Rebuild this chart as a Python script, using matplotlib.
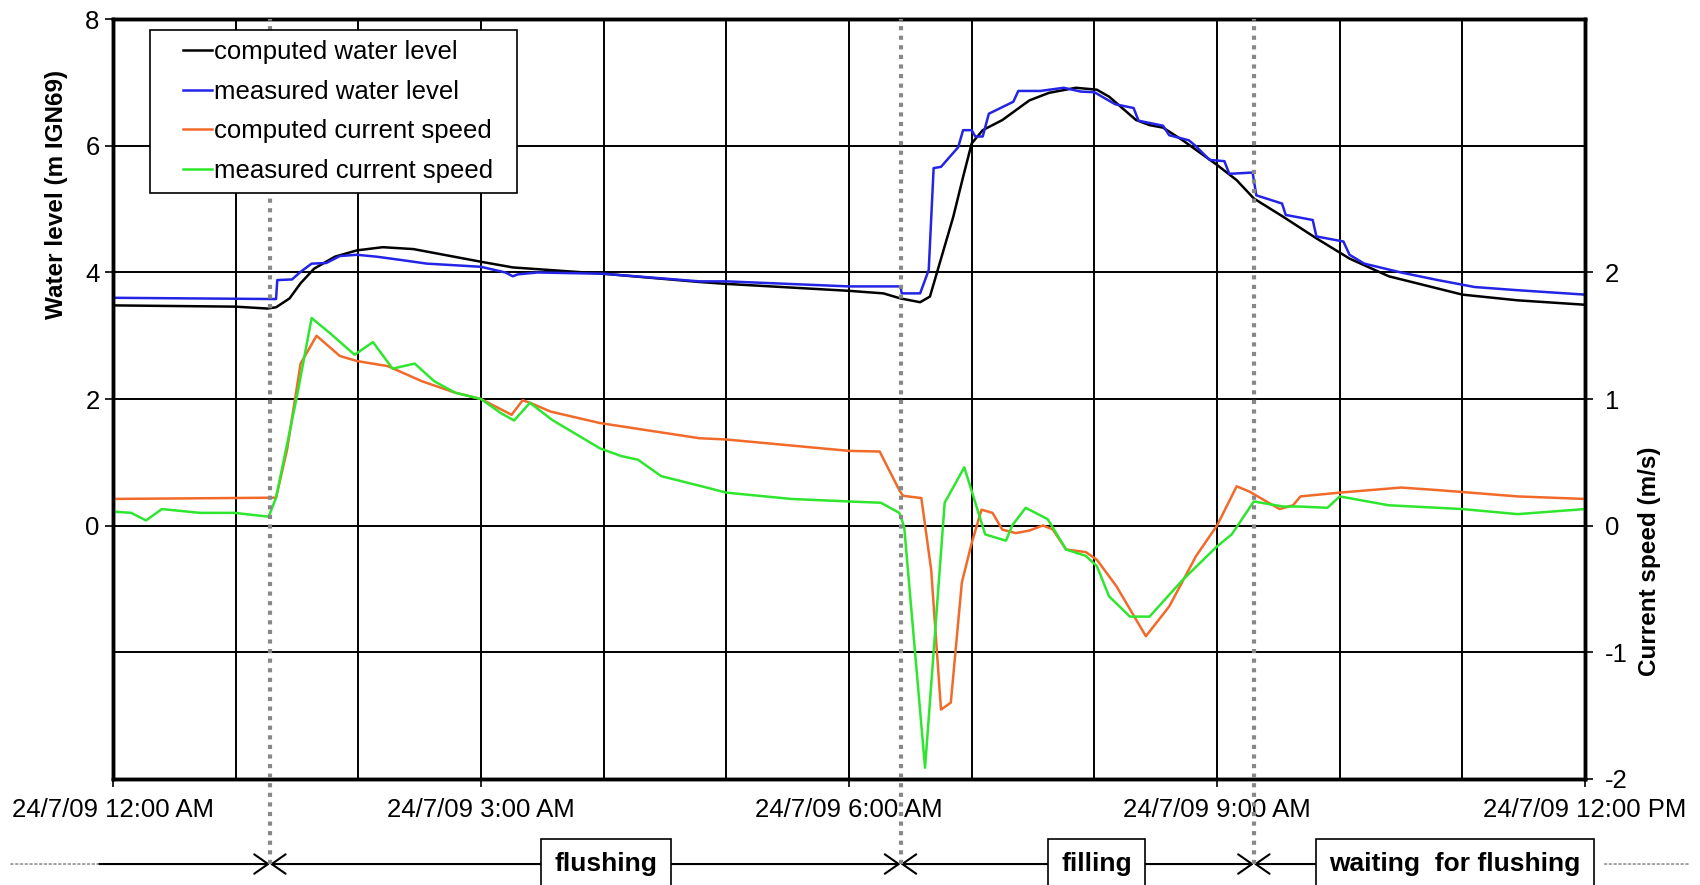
# water level / current speed during a flushing cycle

import matplotlib.pyplot as plt
from matplotlib.transforms import blended_transform_factory
from matplotlib.legend_handler import HandlerLine2D

plt.rcParams['font.family'] = ['Liberation Sans', 'DejaVu Sans']
plt.rcParams['axes.unicode_minus'] = False
fontsize = 18.5

## data (time in hours after 24/7/09 12:00 AM)
t_level_comp = [0, 0.5, 1.0, 1.26, 1.33, 1.44, 1.53, 1.64, 1.81, 1.99, 2.2, 2.45, 3.0, 3.26, 3.7,
                4.0, 4.78, 5.0, 6.0, 6.28, 6.42, 6.58, 6.66, 6.74, 6.85, 6.93, 7.0, 7.09, 7.25,
                7.47, 7.63, 7.85, 8.02, 8.12, 8.34, 8.45, 8.56, 8.72, 9.0, 9.16, 9.3, 9.54, 9.81,
                10.08, 10.4, 11.0, 11.45, 12.0]
level_comp = [3.48, 3.47, 3.46, 3.43, 3.45, 3.59, 3.83, 4.06, 4.25, 4.35, 4.40, 4.37, 4.17, 4.08, 4.02,
              3.98, 3.85, 3.82, 3.71, 3.67, 3.59, 3.53, 3.62, 4.15, 4.88, 5.51, 6.04, 6.25, 6.41,
              6.72, 6.84, 6.92, 6.89, 6.78, 6.41, 6.33, 6.29, 6.09, 5.70, 5.46, 5.17, 4.88, 4.54,
              4.22, 3.94, 3.65, 3.56, 3.49]

t_level_meas = [0, 1.33, 1.34, 1.46, 1.53, 1.62, 1.74, 1.85, 1.99, 2.15, 2.34, 2.56, 3.0, 3.2, 3.26,
                3.3, 3.46, 4.0, 4.78, 5.0, 6.0, 6.42, 6.43, 6.58, 6.65, 6.69, 6.75, 6.89, 6.93,
                7.0, 7.03, 7.09, 7.14, 7.34, 7.38, 7.56, 7.75, 7.89, 8.0, 8.17, 8.32, 8.36, 8.56,
                8.61, 8.77, 8.82, 8.94, 9.06, 9.1, 9.29, 9.32, 9.53, 9.56, 9.78, 9.81, 10.03,
                10.08, 10.2, 10.5, 10.8, 11.1, 11.45, 12.0]
level_meas = [3.60, 3.58, 3.88, 3.89, 4.01, 4.14, 4.15, 4.26, 4.28, 4.25, 4.20, 4.14, 4.09, 4.0, 3.94,
              3.97, 4.0, 3.98, 3.86, 3.86, 3.78, 3.78, 3.67, 3.67, 4.04, 5.65, 5.67, 5.98, 6.25,
              6.25, 6.15, 6.15, 6.51, 6.70, 6.87, 6.87, 6.92, 6.86, 6.85, 6.66, 6.60, 6.40, 6.32,
              6.17, 6.09, 6.01, 5.78, 5.76, 5.56, 5.58, 5.22, 5.09, 4.91, 4.83, 4.57, 4.49,
              4.28, 4.14, 4.0, 3.88, 3.77, 3.72, 3.65]

t_speed_comp = [0, 1.33, 1.42, 1.53, 1.66, 1.85, 1.99, 2.24, 2.52, 2.79, 3.0, 3.25, 3.34, 3.4, 3.57,
                3.97, 4.78, 5.0, 6.0, 6.25, 6.41, 6.44, 6.59, 6.67, 6.75, 6.83, 6.92, 7.0, 7.08,
                7.17, 7.25, 7.36, 7.47, 7.58, 7.66, 7.77, 7.93, 8.02, 8.18, 8.42, 8.61, 8.83, 9.0,
                9.16, 9.26, 9.51, 9.62, 9.68, 10.0, 10.5, 10.8, 11.45, 12.0]
speed_comp = [0.21, 0.22, 0.60, 1.28, 1.50, 1.34, 1.30, 1.26, 1.14, 1.05, 1.0, 0.875, 0.99, 0.97, 0.90,
              0.81, 0.69, 0.68, 0.59, 0.585, 0.28, 0.235, 0.217, -0.35, -1.455, -1.40, -0.45, -0.14, 0.125,
              0.10, -0.033, -0.06, -0.04, 0.0, -0.03, -0.19, -0.21, -0.27, -0.48, -0.875, -0.64, -0.24, 0.0,
              0.31, 0.27, 0.13, 0.16, 0.23, 0.26, 0.30, 0.28, 0.23, 0.21]

t_speed_meas = [0, 0.15, 0.27, 0.4, 0.71, 0.99, 1.27, 1.33, 1.50, 1.62, 1.77, 1.97, 2.12, 2.28, 2.46,
                2.62, 2.79, 3.0, 3.16, 3.27, 3.4, 3.58, 3.97, 4.14, 4.28, 4.47, 4.8, 5.0, 5.53, 6.0,
                6.26, 6.41, 6.45, 6.62, 6.78, 6.94, 7.11, 7.28, 7.33, 7.44, 7.62, 7.77, 7.93, 8.02,
                8.12, 8.29, 8.45, 8.72, 9.0, 9.12, 9.30, 9.54, 9.67, 9.9, 10.0, 10.4, 11.0, 11.45, 12.0]
speed_meas = [0.11, 0.10, 0.04, 0.13, 0.10, 0.10, 0.07, 0.22, 1.02, 1.64, 1.52, 1.35, 1.45, 1.24, 1.28,
              1.14, 1.05, 1.0, 0.89, 0.83, 0.97, 0.835, 0.61, 0.55, 0.52, 0.39, 0.31, 0.26, 0.21, 0.19,
              0.18, 0.10, -0.01, -1.915, 0.18, 0.46, -0.07, -0.12, 0.0, 0.14, 0.05, -0.19, -0.24, -0.32,
              -0.56, -0.72, -0.72, -0.43, -0.165, -0.07, 0.19, 0.15, 0.15, 0.14, 0.23, 0.16, 0.13, 0.09, 0.13]

xTickPos = [0, 3, 6, 9, 12]
xTickMarks = ['24/7/09 12:00 AM', '24/7/09 3:00 AM', '24/7/09 6:00 AM',
              '24/7/09 9:00 AM', '24/7/09 12:00 PM']
phase_bounds = [1.28, 6.42, 9.30]
phase_names = ['flushing', 'filling', 'waiting  for flushing']
phase_label_x = [4.02, 8.02, 10.94]

fig = plt.figure(figsize=(17, 8.85), dpi=100)
ax = fig.add_axes([0.0664, 0.1203, 0.866, 0.8577])
ax2 = ax.twinx()

## lines
l1, = ax.plot(t_level_comp, level_comp, color='black', lw=1.8, label='computed water level')
l2, = ax.plot(t_level_meas, level_meas, color='#2424e6', lw=1.8, label='measured water level')
l3, = ax2.plot(t_speed_comp, speed_comp, color='#f26a2a', lw=1.8, label='computed current speed')
l4, = ax2.plot(t_speed_meas, speed_meas, color='#2ee62e', lw=1.8, label='measured current speed')

# axes and labels
ax.set_xlim(0, 12)
ax.set_ylim(-4, 8)
ax2.set_ylim(-2, 4)
ax.set_xticks(xTickPos)
ax.set_xticklabels(xTickMarks)
ax.set_xticks(range(13), minor=True)
ax.set_yticks([0, 2, 4, 6, 8])
ax.set_yticks([-2], minor=True)
ax2.set_yticks([-2, -1, 0, 1, 2])
ax.grid(True, which='both', color='black', lw=1.4)
ax.set_axisbelow(True)
ax.tick_params(which='major', labelsize=fontsize, length=6, width=1.2, direction='out')
ax.tick_params(axis='x', which='major', pad=8)
ax.tick_params(which='minor', length=0)
ax2.tick_params(labelsize=fontsize, length=6, width=1.2, pad=8)
ax.set_ylabel('Water level (m IGN69)', fontsize=17.5, fontweight='bold')
ax2.set_ylabel('Current speed (m/s)', fontsize=17.5, fontweight='bold')
ax.yaxis.set_label_coords(-0.0303, 0.769)
ax2.yaxis.set_label_coords(1.036, 0.286)
for a in (ax, ax2):
    for s in a.spines.values():
        s.set_linewidth(2.5)

## phase boundaries (dotted, running down to the arrow row)
y_row = 0.0237
y_row_ax = (y_row - 0.1203) / 0.8577
for b in phase_bounds:
    ax2.plot([b, b], [y_row_ax, 1], transform=ax2.get_xaxis_transform(), color='#888888',
             lw=3, ls=(0, (1, 1.3)), clip_on=False, zorder=5)

## arrows and phase boxes below the axis
xy = ('data', 'figure fraction')
arrow = dict(lw=1.5, color='black', shrinkA=0, shrinkB=0, mutation_scale=20)
edges = [(-0.12, phase_bounds[0], '->'), (phase_bounds[0], phase_bounds[1], '<->'),
         (phase_bounds[1], phase_bounds[2], '<->'), (phase_bounds[2], 11.0, '<-')]
for x0, x1, style in edges:
    ax.annotate('', xy=(x1, y_row), xytext=(x0, y_row), xycoords=xy, textcoords=xy,
                arrowprops=dict(arrowstyle=style + ',head_length=0.5,head_width=0.35', **arrow),
                annotation_clip=False)
for x0, x1 in [(-0.83, -0.12), (12.16, 12.86)]:
    ax.annotate('', xy=(x1, y_row), xytext=(x0, y_row), xycoords=xy, textcoords=xy,
                arrowprops=dict(arrowstyle='-', lw=1.3, color='#999999', ls=':', shrinkA=0, shrinkB=0),
                annotation_clip=False)
trans = blended_transform_factory(ax.transData, fig.transFigure)
for x, name in zip(phase_label_x, phase_names):
    ax.text(x, y_row, name, transform=trans, ha='center', va='center', fontsize=19,
            fontweight='bold', zorder=10,
            bbox=dict(boxstyle='square,pad=0.5', fc='white', ec='black', lw=1.2))

## legend (expanded to a fixed width, handle pushed in from the frame)
leg = ax2.legend(handles=[l1, l2, l3, l4], loc='upper left', mode='expand',
                 bbox_to_anchor=(0.0253, 0.5, 0.2493, 0.486),
                 borderaxespad=0, fontsize=fontsize, fancybox=False, framealpha=1, edgecolor='black',
                 handlelength=2.0, handletextpad=0.1, labelspacing=0.6, borderpad=0.4,
                 handler_map={l: HandlerLine2D(xpad=0.87) for l in (l1, l2, l3, l4)})
leg.get_frame().set_linewidth(1.2)

fig.savefig('out.png', dpi=100)
